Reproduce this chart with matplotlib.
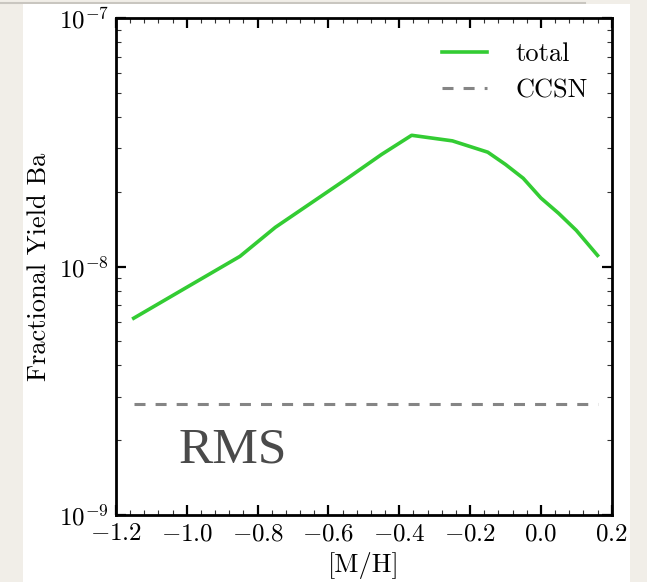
import numpy as np
import matplotlib
matplotlib.use("Agg")
import matplotlib.pyplot as plt
from matplotlib.patches import Rectangle
from matplotlib.lines import Line2D
from matplotlib.ticker import MultipleLocator, LogLocator, NullFormatter

# values
mh = [-1.15, -1.0, -0.85, -0.75, -0.65, -0.55, -0.45, -0.365,
      -0.25, -0.15, -0.1, -0.05, 0.0, 0.05, 0.1, 0.16]
total = [6.2e-9, 8.26e-9, 1.10e-8, 1.44e-8, 1.80e-8, 2.25e-8, 2.83e-8, 3.38e-8,
         3.21e-8, 2.89e-8, 2.58e-8, 2.27e-8, 1.89e-8, 1.64e-8, 1.40e-8, 1.11e-8]
ccsn_level = 2.79e-9
ccsn = [ccsn_level for _ in mh]

plt.rcParams['font.family'] = 'serif'
plt.rcParams['font.serif'] = ['cmr10']
plt.rcParams['mathtext.fontset'] = 'cm'
plt.rcParams['axes.formatter.use_mathtext'] = True

W, H = 647, 582
fig = plt.figure(figsize=(W / 100, H / 100), dpi=100, facecolor='#f1eee8')

# white slide panel behind the plot
fig.patches.append(Rectangle((23 / W, 0), (630 - 23) / W, 1 - 4 / H,
                             transform=fig.transFigure, facecolor='white',
                             edgecolor='none', zorder=-5))
fig.lines.append(Line2D([0, 585 / W], [1 - 3 / H, 1 - 3 / H],
                        transform=fig.transFigure, color='#c9c6c0', lw=1.5,
                        zorder=-5))

ax = fig.add_axes([116 / W, 1 - 515 / H, (611.7 - 116) / W, (515 - 18.3) / H])
ax.set_facecolor('white')

ax.plot(mh, total, color='#33cc33', lw=2.6, label='total')
ax.plot(mh, ccsn, color='#858585', lw=2.2, dashes=(3.6, 3.3), label='CCSN')

ax.set_yscale('log')
ax.set_xlim(-1.2, 0.2)
ax.set_ylim(1e-9, 1e-7)

ax.xaxis.set_major_locator(MultipleLocator(0.2))
ax.xaxis.set_minor_locator(MultipleLocator(0.04))
ax.yaxis.set_major_locator(LogLocator(base=10))
ax.yaxis.set_minor_locator(LogLocator(base=10, subs=np.arange(2, 10)))
ax.yaxis.set_minor_formatter(NullFormatter())

ax.tick_params(which='both', direction='in', top=True, right=True, labelsize=18)
ax.tick_params(which='major', length=7, width=1.6, pad=6)
ax.tick_params(which='minor', length=3.6, width=0.8, color='#333333')
ax.tick_params(axis='y', which='major', pad=5)
for s in ax.spines.values():
    s.set_linewidth(2)

ax.set_xlabel('[M/H]', fontsize=19, labelpad=5)
ax.set_ylabel('Fractional Yield Ba', fontsize=19, labelpad=6)

ax.legend(loc='upper right', frameon=False, fontsize=19, handlelength=1.7,
          handletextpad=1.1, labelspacing=0.5, borderaxespad=0.5)

ax.text(-1.022, 1.62e-9, 'RMS', fontsize=37, color='#4a4a4a',
        family='Liberation Serif')

fig.savefig('out.png', dpi=100, facecolor=fig.get_facecolor())
